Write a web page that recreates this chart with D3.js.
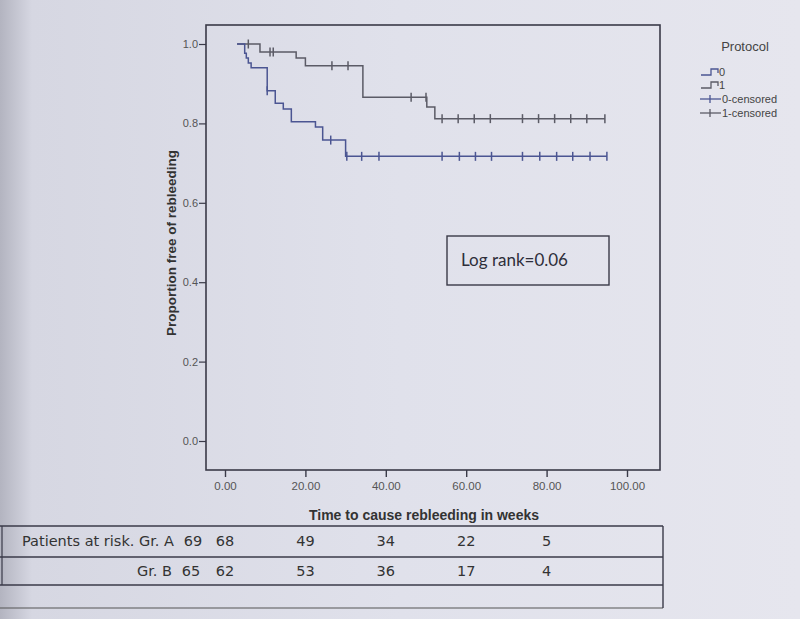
<!DOCTYPE html>
<html>
<head>
<meta charset="utf-8">
<script src="https://cdn.jsdelivr.net/npm/d3@7"></script>
<style>
  html, body { margin: 0; padding: 0; }
  body { width: 800px; height: 619px; overflow: hidden; }
</style>
</head>
<body>
<div id="chart"></div>
<script>
// Kaplan-Meier curves, values
const protocol0Times = [3, 4.9, 5.3, 5.8, 6.5, 10.5, 12.5, 14.5, 16.5, 22.5, 24.3, 30, 95];
const protocol0Surv  = [1.0, 0.977, 0.965, 0.952, 0.940, 0.882, 0.851, 0.836, 0.804, 0.791, 0.758, 0.717, 0.717];
const protocol0Censored = [10.5, 26.3, 30.3, 34, 38.3, 54, 58.3, 62.3, 66.3, 74, 78.3, 82.5, 86.5, 90.8, 95];

const protocol1Times = [3, 8.7, 17.7, 20, 34.3, 50.2, 52.2, 94.5];
const protocol1Surv  = [1.0, 0.98, 0.965, 0.945, 0.866, 0.841, 0.812, 0.812];
const protocol1Censored = [5.8, 11.2, 12, 26.6, 30.6, 46.3, 50, 54, 58, 62, 66, 74, 78, 82, 86, 90, 94.5];

const xTicks = [0, 20, 40, 60, 80, 100];
const yTicks = [0, 0.2, 0.4, 0.6, 0.8, 1.0];

const legendLabels = ["0", "1", "0-censored", "1-censored"];

// patients at risk table
const riskTimes = [0, 20, 40, 60, 80];
const groupATotal = 69;
const groupARisk = [68, 49, 34, 22, 5];
const groupBTotal = 65;
const groupBRisk = [62, 53, 36, 17, 4];

const width = 800, height = 619;
const blue = "#4b5592", gray = "#5b5b66", ink = "#3a3a48";

const svg = d3.select("#chart").append("svg")
    .attr("width", width)
    .attr("height", height);

// photo-like paper background
const defs = svg.append("defs");
const grad = defs.append("linearGradient").attr("id", "paper")
    .attr("x1", "0").attr("y1", "0").attr("x2", "1").attr("y2", "0");
grad.append("stop").attr("offset", "0").attr("stop-color", "#b3b4c0");
grad.append("stop").attr("offset", "0.04").attr("stop-color", "#d6d7e2");
grad.append("stop").attr("offset", "0.5").attr("stop-color", "#e0e1eb");
grad.append("stop").attr("offset", "1").attr("stop-color", "#e6e6ee");
svg.append("rect").attr("width", width).attr("height", height).attr("fill", "url(#paper)");

// plot frame
const frame = { left: 206, top: 25, right: 660, bottom: 470 };

const x = d3.scaleLinear().domain([0, 100]).range([225, 627]);
const y = d3.scaleLinear().domain([0, 1]).range([441, 44]);

svg.append("rect")
    .attr("x", frame.left).attr("y", frame.top)
    .attr("width", frame.right - frame.left)
    .attr("height", frame.bottom - frame.top)
    .attr("fill", "none")
    .attr("stroke", ink)
    .attr("stroke-width", 1.6);

// y axis
const yAxis = svg.append("g")
    .attr("transform", `translate(${frame.left},0)`)
    .call(d3.axisLeft(y).tickValues(yTicks).tickSize(7).tickFormat(d3.format(".1f")));
yAxis.select(".domain").remove();
yAxis.selectAll("line").attr("stroke", ink).attr("stroke-width", 1.2);
yAxis.selectAll("text")
    .attr("x", -8)
    .style("font-family", "Liberation Sans Narrow, Liberation Sans, Arial, sans-serif")
    .style("font-size", "11px")
    .attr("fill", "#555");

// x axis
const xAxis = svg.append("g")
    .attr("transform", `translate(0,${frame.bottom})`)
    .call(d3.axisBottom(x).tickValues(xTicks).tickSize(7).tickFormat(d3.format(".2f")));
xAxis.select(".domain").remove();
xAxis.selectAll("line").attr("stroke", ink).attr("stroke-width", 1.4);
xAxis.selectAll("text")
    .attr("y", 12)
    .style("font-family", "Liberation Sans Narrow, Liberation Sans, Arial, sans-serif")
    .style("font-size", "11.5px")
    .attr("fill", "#555");

// axis titles
svg.append("text")
    .attr("transform", "translate(176,243) rotate(-90)")
    .attr("text-anchor", "middle")
    .style("font-family", "Liberation Sans, Arial, sans-serif")
    .style("font-weight", "bold")
    .style("font-size", "13.5px")
    .attr("fill", "#333")
    .text("Proportion free of rebleeding");

svg.append("text")
    .attr("x", 424).attr("y", 520)
    .attr("text-anchor", "middle")
    .style("font-family", "Liberation Sans, Arial, sans-serif")
    .style("font-weight", "bold")
    .style("font-size", "14px")
    .attr("fill", "#333")
    .text("Time to cause rebleeding in weeks");

// step curves
function drawCurve(times, surv, censored, color) {
    const pts = times.map((t, i) => [t, surv[i]]);
    const line = d3.line()
        .x(d => x(d[0]))
        .y(d => y(d[1]))
        .curve(d3.curveStepAfter);
    svg.append("path")
        .datum(pts)
        .attr("d", line)
        .attr("fill", "none")
        .attr("stroke", color)
        .attr("stroke-width", 1.5);

    // survival value at a censoring time
    const survAt = t => {
        let s = surv[0];
        times.forEach((tt, i) => { if (tt <= t) s = surv[i]; });
        return s;
    };
    svg.append("g").selectAll("line")
        .data(censored)
        .enter()
        .append("line")
        .attr("x1", d => x(d)).attr("x2", d => x(d))
        .attr("y1", d => y(survAt(d)) - 4.5)
        .attr("y2", d => y(survAt(d)) + 4.5)
        .attr("stroke", color)
        .attr("stroke-width", 1.5);
}

drawCurve(protocol1Times, protocol1Surv, protocol1Censored, gray);
drawCurve(protocol0Times, protocol0Surv, protocol0Censored, blue);

// log rank box
svg.append("rect")
    .attr("x", 447).attr("y", 236)
    .attr("width", 162).attr("height", 49)
    .attr("fill", "none")
    .attr("stroke", ink)
    .attr("stroke-width", 1.4);
svg.append("text")
    .attr("x", 461).attr("y", 266)
    .style("font-family", "Lato, 'Open Sans', sans-serif")
    .style("font-size", "17px")
    .attr("fill", "#2e2e3a")
    .text("Log rank=0.06");

// legend
const legend = svg.append("g").attr("transform", "translate(700,0)");
legend.append("text")
    .attr("x", 45).attr("y", 51)
    .attr("text-anchor", "middle")
    .style("font-family", "Liberation Sans, Arial, sans-serif")
    .style("font-size", "13px")
    .attr("fill", "#444")
    .text("Protocol");

const legendColors = [blue, gray, blue, gray];
const legendY = [72, 85, 99, 113];
legendLabels.forEach((lab, i) => {
    const g = legend.append("g").attr("transform", `translate(0,${legendY[i]})`);
    if (i < 2) {
        g.append("path")
            .attr("d", "M1,3 H11 V-3 H18 V1")
            .attr("fill", "none")
            .attr("stroke", legendColors[i])
            .attr("stroke-width", 1.3);
    } else {
        g.append("line").attr("x1", 0).attr("x2", 21).attr("y1", 0).attr("y2", 0)
            .attr("stroke", legendColors[i]).attr("stroke-width", 1.3);
        g.append("line").attr("x1", 10).attr("x2", 10).attr("y1", -4).attr("y2", 4)
            .attr("stroke", legendColors[i]).attr("stroke-width", 1.3);
    }
    g.append("text")
        .attr("x", i < 2 ? 19 : 22).attr("y", 4)
        .style("font-family", "Liberation Sans, Arial, sans-serif")
        .style("font-size", "11px")
        .attr("fill", "#444")
        .text(lab);
});

// patients at risk table
const tableRight = 663;
[526, 557, 585].forEach(ly => {
    svg.append("line")
        .attr("x1", 0).attr("x2", tableRight)
        .attr("y1", ly).attr("y2", ly)
        .attr("stroke", ink).attr("stroke-width", 1.4);
});
svg.append("line")
    .attr("x1", 0).attr("x2", tableRight)
    .attr("y1", 608).attr("y2", 608)
    .attr("stroke", "#555").attr("stroke-width", 1.2);
svg.append("line")
    .attr("x1", 2).attr("x2", 2).attr("y1", 526).attr("y2", 585)
    .attr("stroke", ink).attr("stroke-width", 1.2);
svg.append("line")
    .attr("x1", tableRight).attr("x2", tableRight).attr("y1", 526).attr("y2", 608)
    .attr("stroke", ink).attr("stroke-width", 1.4);

const tableFont = "'DejaVu Sans', Verdana, sans-serif";
function riskRow(label, labelX, total, values, baseY) {
    svg.append("text")
        .attr("x", labelX).attr("y", baseY)
        .attr("text-anchor", "end")
        .style("font-family", tableFont)
        .style("font-size", "14.5px")
        .attr("fill", "#333")
        .text(label);
    svg.append("text")
        .attr("x", labelX + 19).attr("y", baseY)
        .attr("text-anchor", "middle")
        .style("font-family", tableFont)
        .style("font-size", "14.5px")
        .attr("fill", "#333")
        .text(total);
    svg.append("g").selectAll("text")
        .data(values)
        .enter()
        .append("text")
        .attr("x", (d, i) => x(riskTimes[i]))
        .attr("y", baseY)
        .attr("text-anchor", "middle")
        .style("font-family", tableFont)
        .style("font-size", "14.5px")
        .attr("fill", "#333")
        .text(d => d);
}
riskRow("Patients at risk. Gr. A", 174, groupATotal, groupARisk, 546);
riskRow("Gr. B", 172, groupBTotal, groupBRisk, 576);
</script>
</body>
</html>
